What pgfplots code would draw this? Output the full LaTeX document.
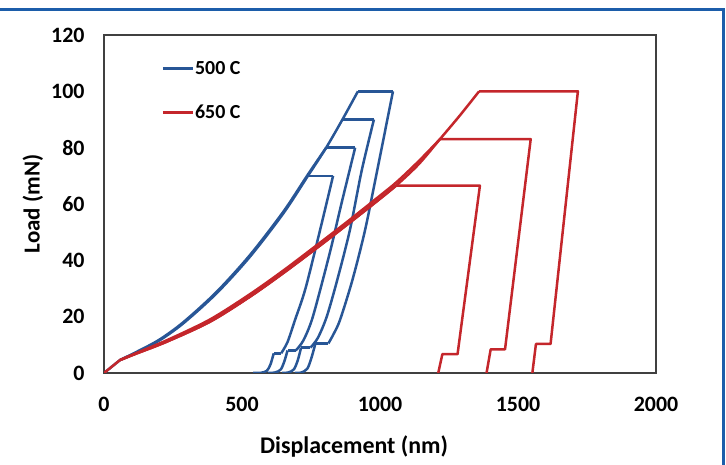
\documentclass[border=0pt]{standalone}
\usepackage{pgfplots}
\pgfplotsset{compat=1.18}
\usepackage{fontspec}
\setmainfont{Carlito}
\definecolor{bl}{HTML}{285696}
\definecolor{rd}{HTML}{C4262B}
\definecolor{fr}{HTML}{1C5DAA}
\begin{document}
\begin{tikzpicture}
\path[use as bounding box] (0,0) rectangle (726bp,465bp);
\draw[fr, line width=3bp] (0,455bp) -- (723.5bp,455bp) -- (723.5bp,0);
\begin{axis}[
  at={(104bp,92bp)}, anchor=south west,
  scale only axis, width=552bp, height=338bp,
  xmin=0, xmax=2000, ymin=0, ymax=120,
  xtick={0,500,...,2000}, ytick={0,20,...,120},
  major tick length=0pt,
  axis line style={draw=black!75, line width=1.5bp},
  tick label style={font=\bfseries\fontsize{22}{26}\selectfont},
  /pgf/number format/assume math mode=true,
  /pgf/number format/1000 sep={},
  xticklabel style={yshift=-21bp},
  yticklabel style={xshift=-16bp},
  xlabel={Displacement (nm)},
  ylabel={Load (mN)},
  xlabel style={font=\bfseries\fontsize{24}{28}\selectfont, at={(axis description cs:0.453,-0.218)}, anchor=center},
  ylabel style={font=\bfseries\fontsize{23}{27}\selectfont, at={(axis description cs:-0.129,0.5)}, anchor=center},
  legend image code/.code={\draw[#1] (0bp,0bp) -- (30bp,0bp);},
  legend style={at={(axis description cs:0.104,0.835)}, anchor=west, draw=none, fill=none,
    font=\bfseries\fontsize{20}{24}\selectfont, row sep=27bp, inner sep=0pt,
    nodes={inner sep=1bp}},
  legend cell align=left,
  every axis plot/.append style={line width=2.5bp, line join=round, forget plot},
]
\addlegendimage{bl, line width=2.5bp}
\addlegendentry{500 C}
\addlegendimage{rd, line width=2.5bp}
\addlegendentry{650 C}

% ---------- 500 C ----------
\addplot[bl] coordinates {(0,0) (58,4.6)};
\addplot[bl, smooth] coordinates {(58,4.6) (120,7.4) (200,11.5) (287,17.6) (408,28.3) (529,41.3) (650,56.7) (739,70) (805,80) (864,90) (920,100)};
\addplot[bl, smooth] coordinates {(58,4.6) (120,7.6) (200,11.8) (287,18.0) (408,28.8) (529,41.9) (650,57.3) (739,70.5) (805,80)};
\addplot[bl] coordinates {(739,70) (830,70)};
\addplot[bl] coordinates {(805,80) (910,80)};
\addplot[bl] coordinates {(864,90) (978,90)};
\addplot[bl] coordinates {(920,100) (1047,100)};
% unloading 70
\addplot[bl, smooth] coordinates {(830,70) (783,50.8) (730,30) (692,18.8) (665,11) (642,7)};
\addplot[bl] coordinates {(642,7) (615,7)};
\addplot[bl, smooth] coordinates {(615,7) (603,3) (590,0.8) (570,0.1) (540,0)};
% unloading 80
\addplot[bl, smooth] coordinates {(910,80) (860,60) (825,45.4) (790,32) (753,18.8) (722,11.5) (695,8)};
\addplot[bl] coordinates {(695,8) (665,8)};
\addplot[bl, smooth] coordinates {(665,8) (653,4) (640,1.2) (620,0.2) (595,0)};
% unloading 90
\addplot[bl, smooth] coordinates {(978,90) (934,72) (891,50.8) (845,33) (807,20) (775,12.5) (748,9)};
\addplot[bl] coordinates {(748,9) (714,9)};
\addplot[bl, smooth] coordinates {(714,9) (702,4.5) (688,1.3) (668,0.2) (645,0)};
% unloading 100
\addplot[bl, smooth] coordinates {(1047,100) (990,72) (946,50.8) (900,33) (855,18.8) (830,13.5) (813,10.5)};
\addplot[bl] coordinates {(813,10.5) (766,10.5)};
\addplot[bl, smooth] coordinates {(766,10.5) (752,5.5) (737,1.6) (716,0.2) (692,0)};

% ---------- 650 C ----------
\addplot[rd] coordinates {(0,0) (58,4.6)};
\addplot[rd, smooth] coordinates {(58,4.6) (120,7) (227,11.1) (384,18.2) (529,27.1) (650,35.5) (770,44.3) (880,52.6) (980,60.3) (1058,66.5)};
\addplot[rd, smooth] coordinates {(58,4.6) (120,7.2) (227,11.6) (384,19.0) (529,28.0) (650,36.4) (770,45.3) (880,53.6) (980,61.4) (1058,67.6) (1140,75.2) (1217,83)};
\addplot[rd, smooth] coordinates {(58,4.6) (120,7) (227,11.1) (384,18.2) (529,27.1) (650,35.5) (770,44.3) (880,52.6) (980,60.3) (1058,66.5) (1140,74.1) (1217,83) (1290,91.5) (1359,100)};
\addplot[rd] coordinates {(1058,66.5) (1362,66.5) (1281,6.7) (1226,6.7) (1211,0)};
\addplot[rd] coordinates {(1217,83) (1546,83) (1453,8.4) (1401,8.4) (1386,0)};
\addplot[rd] coordinates {(1359,100) (1717,100) (1618,10.3) (1565,10.3) (1552,0)};
\end{axis}
\end{tikzpicture}
\end{document}
